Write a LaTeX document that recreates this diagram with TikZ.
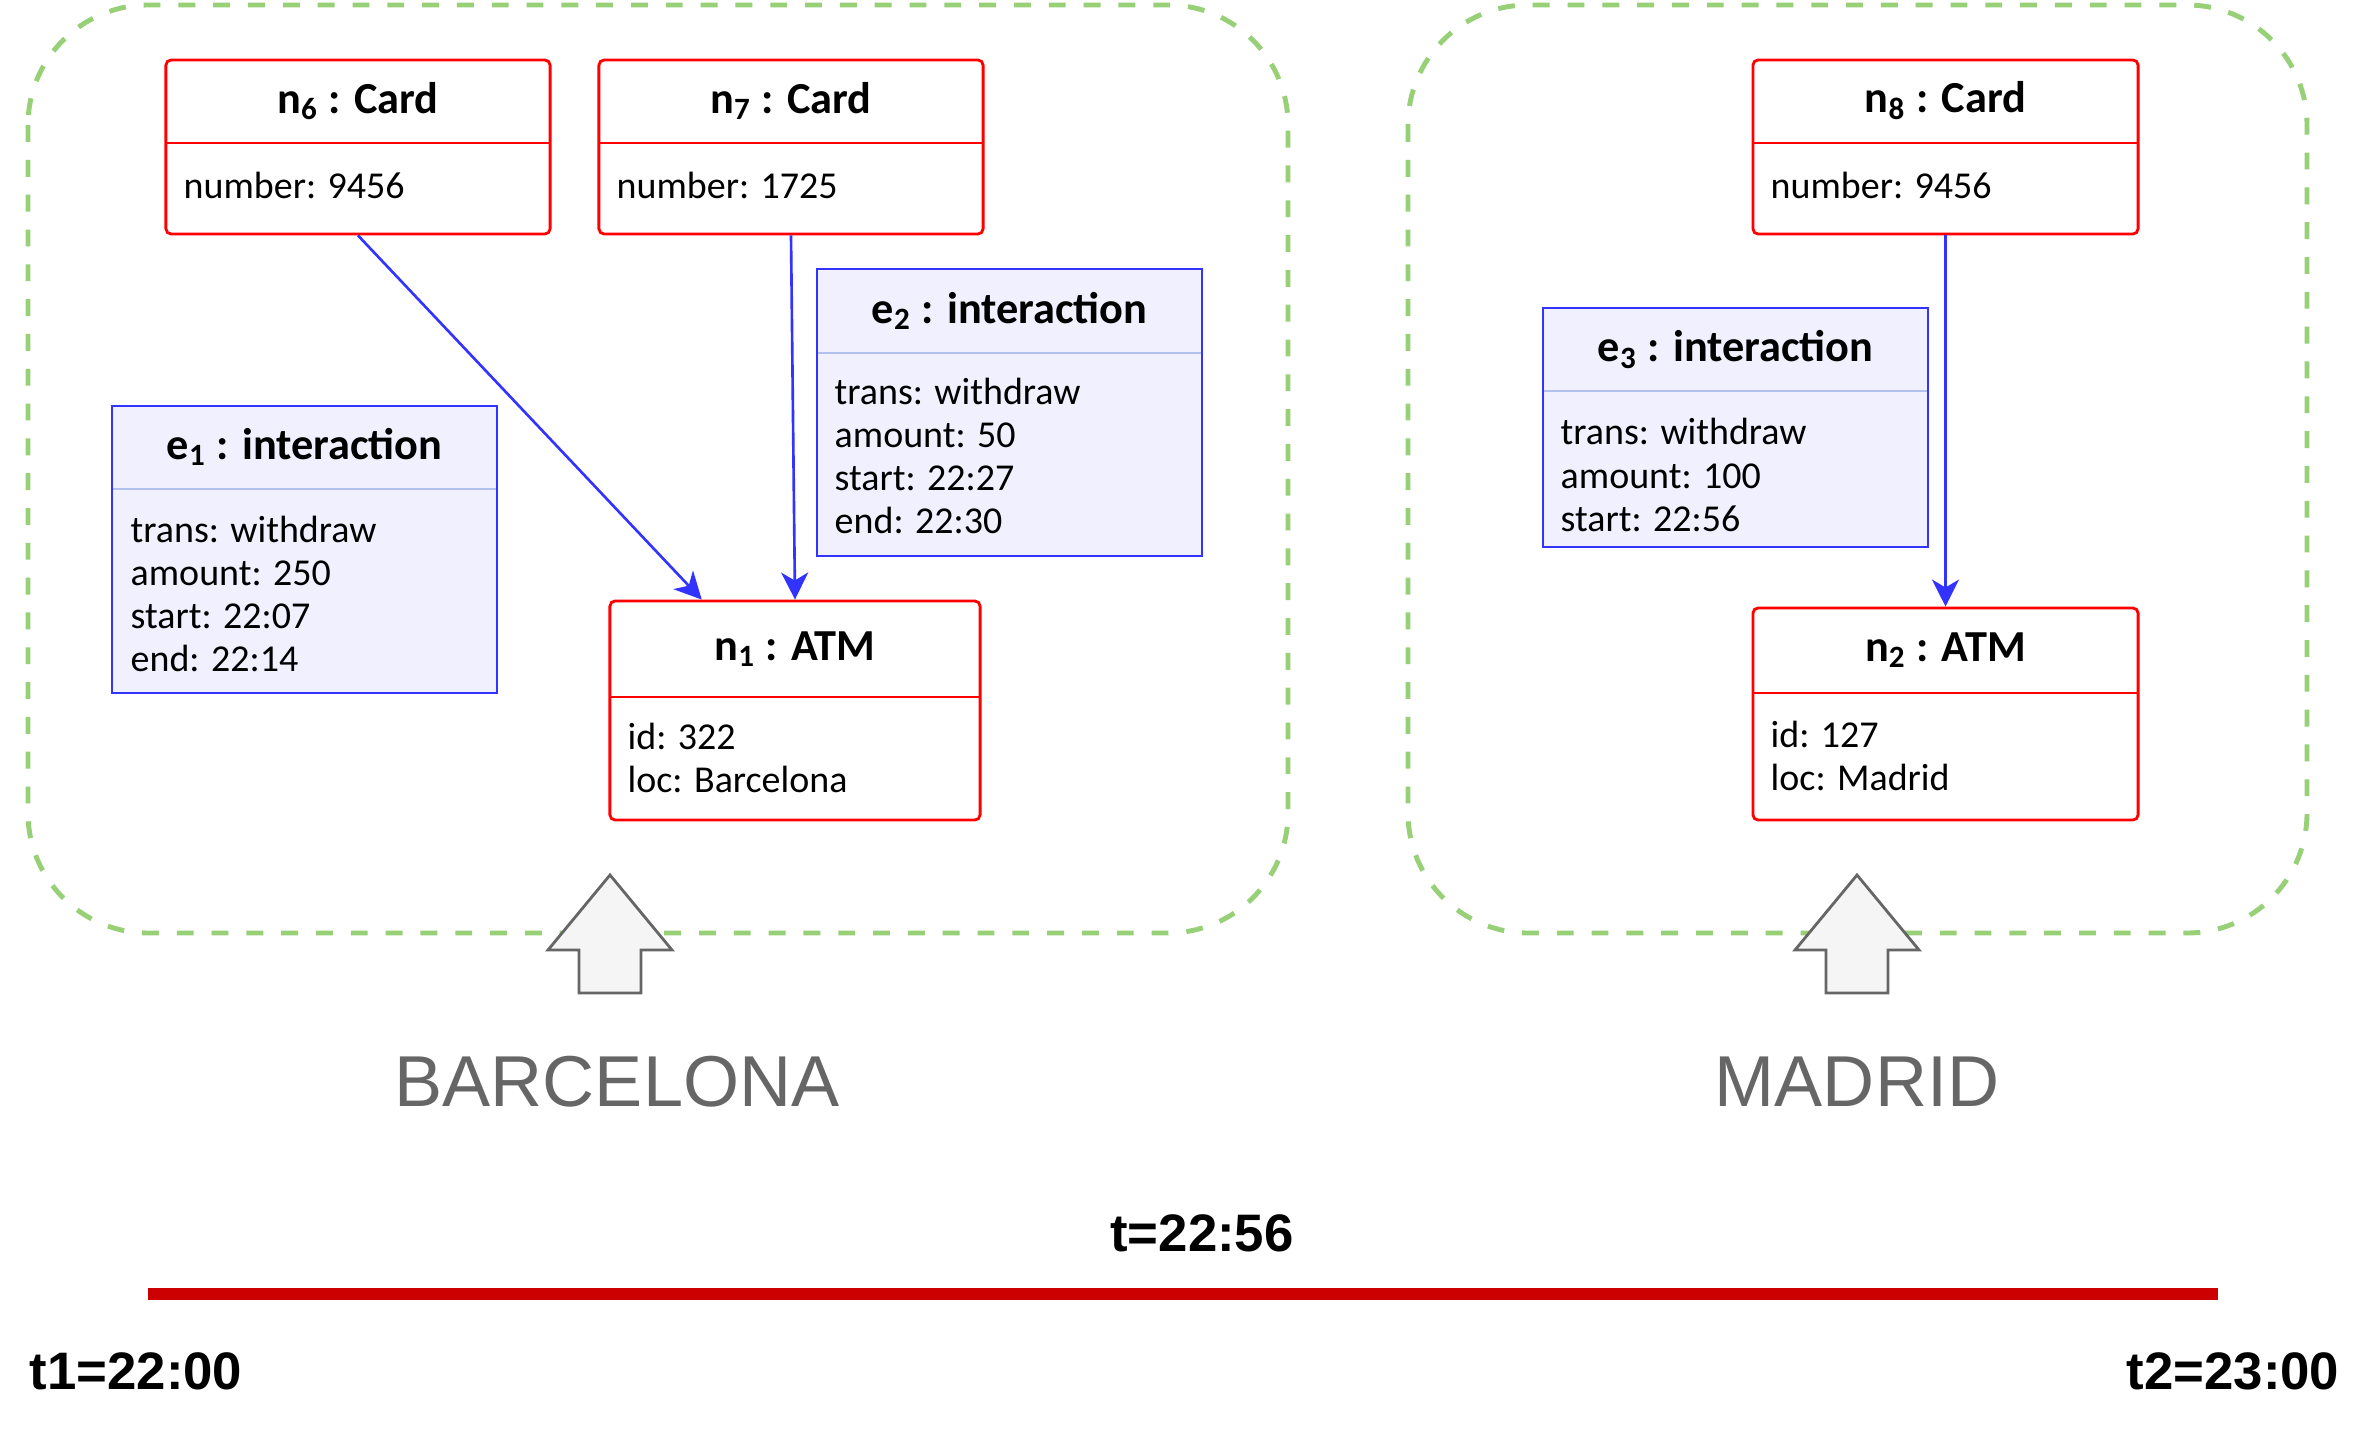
\documentclass[tikz,border=0pt]{standalone}
\usepackage{fontspec}
\setmainfont{Carlito}
\newfontfamily\cityfont{Liberation Sans}
\newfontfamily\timefont{Liberation Sans}
\usetikzlibrary{arrows.meta,calc}
\definecolor{objred}{HTML}{FF0000}
\definecolor{relblue}{HTML}{3333FF}
\definecolor{relfill}{HTML}{F0F0FF}
\definecolor{reldiv}{HTML}{B3C1EE}
\definecolor{zonegreen}{HTML}{97D077}
\definecolor{markgray}{HTML}{666666}
\definecolor{markfill}{HTML}{F5F5F5}
\definecolor{axisred}{HTML}{CC0000}

\begin{document}
\begin{tikzpicture}[x=0.01cm, y=-0.01cm, >={Stealth[length=2.7mm, width=2.7mm, inset=0.8mm]}]
    \tikzset{obj/.style = {shape=rectangle, draw=objred, fill=white, line width=0.8pt, rounded corners=1.5pt, inner sep=0pt}}
    \tikzset{rel/.style = {shape=rectangle, draw=relblue, fill=relfill, line width=0.75pt, inner sep=0pt}}
    \tikzset{head/.style = {inner sep=0pt, font=\bfseries\fontsize{12.6}{15}\selectfont}}
    \tikzset{attr/.style = {anchor=west, align=left, inner sep=0pt, font=\fontsize{10.8}{12.3}\selectfont}}
    \tikzset{link/.style = {draw=relblue, line width=0.75pt, ->}}
    \tikzset{zone/.style = {draw=zonegreen, line width=1.4pt, dash pattern=on 4.8pt off 5.1pt, rounded corners=1.2cm}}
    \tikzset{marker/.style = {draw=markgray, fill=markfill, line width=0.8pt}}
    \tikzset{city/.style = {inner sep=0pt, text=markgray, font=\cityfont\fontsize{20.5}{24}\selectfont}}
    \tikzset{time/.style = {inner sep=0pt, font=\timefont\bfseries\fontsize{15}{18}\selectfont}}

    \useasboundingbox (0,0) rectangle (2367,1434);

    % zones
    \draw[zone] (28,5) rectangle (1288,933);
    \draw[zone] (1408,5) rectangle (2307,933);

    % cards
    \node[obj, minimum width=3.84cm, minimum height=1.74cm] (n6) at (358,147) {};
    \node[obj, minimum width=3.84cm, minimum height=1.74cm] (n7) at (791,147) {};
    \node[obj, minimum width=3.85cm, minimum height=1.74cm] (n8) at (1945.5,147) {};
    \draw[objred, line width=0.8pt] (166,143) -- (550,143);
    \draw[objred, line width=0.8pt] (599,143) -- (983,143);
    \draw[objred, line width=0.8pt] (1753,143) -- (2138,143);
    \node[head] (n6h) at (358,101) {n\textsubscript{6} : Card};
    \node[head] (n7h) at (791,101) {n\textsubscript{7} : Card};
    \node[head] (n8h) at (1945.5,101) {n\textsubscript{8} : Card};
    \node[attr] (n6a) at (183,185) {number: 9456};
    \node[attr] (n7a) at (616,185) {number: 1725};
    \node[attr] (n8a) at (1770,185) {number: 9456};

    % atms
    \node[obj, minimum width=3.70cm, minimum height=2.19cm] (n1) at (795,710.5) {};
    \node[obj, minimum width=3.85cm, minimum height=2.12cm] (n2) at (1945.5,714) {};
    \draw[objred, line width=0.8pt] (610,697) -- (980,697);
    \draw[objred, line width=0.8pt] (1753,693) -- (2138,693);
    \node[head] (n1h) at (795,649) {n\textsubscript{1} : ATM};
    \node[head] (n2h) at (1945.5,650) {n\textsubscript{2} : ATM};
    \node[attr] (n1a) at (627,758) {id: 322\\loc: Barcelona};
    \node[attr] (n2a) at (1770,756) {id: 127\\loc: Madrid};

    % interactions
    \node[rel, minimum width=3.85cm, minimum height=2.87cm] (e1) at (304.5,549.5) {};
    \node[rel, minimum width=3.85cm, minimum height=2.87cm] (e2) at (1009.5,412.5) {};
    \node[rel, minimum width=3.85cm, minimum height=2.39cm] (e3) at (1735.5,427.5) {};
    \draw[reldiv, line width=0.5pt] (113,489) -- (496,489);
    \draw[reldiv, line width=0.5pt] (818,353) -- (1201,353);
    \draw[reldiv, line width=0.5pt] (1544,391) -- (1927,391);
    \node[head] (e1h) at (304.5,447) {e\textsubscript{1} : interaction};
    \node[head] (e2h) at (1009.5,311) {e\textsubscript{2} : interaction};
    \node[head] (e3h) at (1735.5,349.5) {e\textsubscript{3} : interaction};
    \node[attr] (e1a) at (130,594) {trans: withdraw\\amount: 250\\start: 22:07\\end: 22:14};
    \node[attr] (e2a) at (834,456) {trans: withdraw\\amount: 50\\start: 22:27\\end: 22:30};
    \node[attr] (e3a) at (1560,475) {trans: withdraw\\amount: 100\\start: 22:56};

    % edges
    \draw[link] (n6.south) -- ($(n1.north west)!0.25!(n1.north east)$);
    \draw[link] (n7.south) -- (n1.north);
    \draw[link] (n8.south) -- (n2.north);

    % places
    \foreach \x in {610,1857}
        \draw[marker] (\x,875) -- ++(62,75) -- ++(-31,0) -- ++(0,43) -- ++(-62,0) -- ++(0,-43) -- ++(-31,0) -- cycle;
    \node[city] (bcn) at (617,1082) {BARCELONA};
    \node[city] (mad) at (1857,1082) {MADRID};

    % time axis
    \coordinate (ts) at (148,1294);
    \coordinate (te) at (2218,1294);
    \draw[axisred, line width=3.4pt] (ts) -- (te);
    \node[time] (now) at (1202,1233) {t=22:56};
    \node[time, anchor=west] (t1) at (29,1371) {t1=22:00};
    \node[time, anchor=east] (t2) at (2340,1371) {t2=23:00};
\end{tikzpicture}
\end{document}
